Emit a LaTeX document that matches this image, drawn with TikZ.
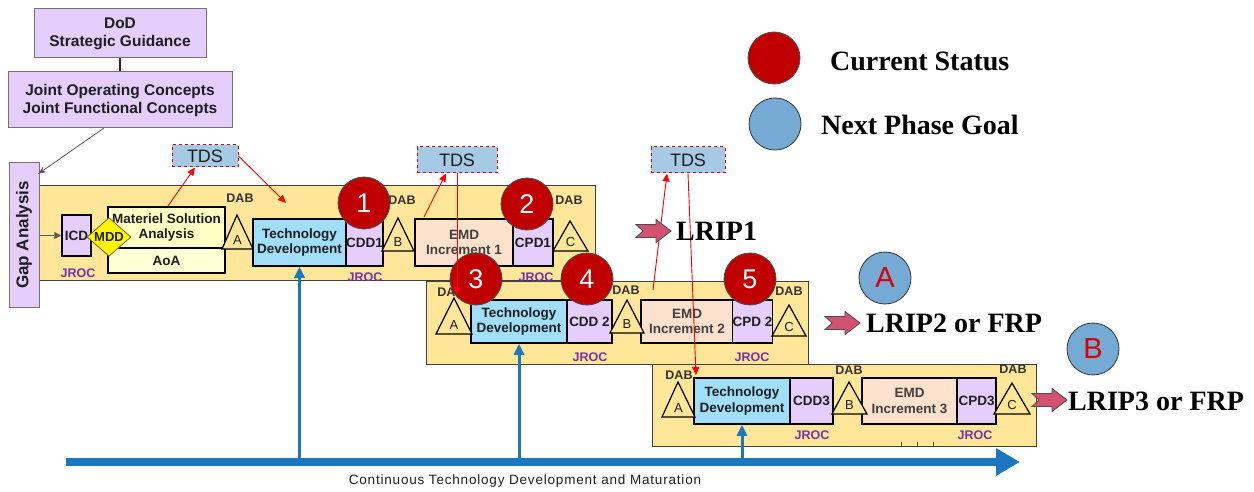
\documentclass[tikz,border=0pt]{standalone}
\usepackage{fontspec}
\setmainfont{Liberation Serif}
\setsansfont{Liberation Sans}
\usetikzlibrary{arrows.meta,shapes.geometric}
\definecolor{lav}{RGB}{229,206,252}
\definecolor{band}{RGB}{255,230,153}
\definecolor{msa}{RGB}{255,255,196}
\definecolor{aoa}{RGB}{255,255,214}
\definecolor{tdc}{RGB}{160,222,250}
\definecolor{emdc}{RGB}{252,226,204}
\definecolor{tdsc}{RGB}{166,202,228}
\definecolor{mddc}{RGB}{255,245,0}
\definecolor{jroc}{RGB}{120,48,170}
\definecolor{redc}{RGB}{192,0,0}
\definecolor{bluec}{RGB}{116,170,211}
\definecolor{tlc}{RGB}{28,120,190}
\definecolor{pinkc}{RGB}{210,82,112}
\definecolor{txt}{RGB}{30,30,30}
\newcommand\dabtri[7]{%
  \draw[tri] (#2,#3) -- (#5,#6) -- (#4,#6) -- cycle;
  \node[trilbl] (#1) at ({(#4+#5)/2},{#6-9}) {#7};}
\newcommand\prodarrow[3]{%
  \draw[pinkarr] (#2,#3-6.5) -- (#2+20,#3-6.5) -- (#2+20,#3-11.5) -- (#2+35,#3)
     -- (#2+20,#3+11.5) -- (#2+20,#3+6.5) -- (#2,#3+6.5) -- (#2+7,#3) -- cycle;
  \coordinate (#1) at (#2+35,#3);}
\begin{document}
\begin{tikzpicture}[x=1pt,y=-1pt,
  every node/.style={inner sep=0pt,text=txt},
  topbox/.style={draw=gray!90!black,line width=1pt,fill=lav,align=center,
     font=\sffamily\bfseries\fontsize{15.5}{18}\selectfont},
  bandbox/.style={draw=black!75,line width=1pt,fill=band},
  stage/.style={draw=black,line width=1.5pt,align=center,
     font=\sffamily\bfseries\fontsize{13.5}{15.5}\selectfont},
  docbox/.style={stage,fill=lav,font=\sffamily\bfseries\fontsize{13.5}{15.5}\selectfont},
  tri/.style={draw=black,line width=1.2pt,fill=band,line join=miter},
  trilbl/.style={font=\sffamily\fontsize{13}{14}\selectfont},
  dab/.style={font=\sffamily\bfseries\fontsize{12.5}{14}\selectfont,text=black!80},
  jr/.style={font=\sffamily\bfseries\fontsize{12.5}{14}\selectfont,text=jroc},
  tds/.style={draw=red!85!black,dashed,line width=1pt,fill=tdsc,
     font=\sffamily\fontsize{18}{20}\selectfont},
  num/.style={circle,draw=black!70,line width=0.8pt,fill=redc,minimum size=52pt,
     text=white,font=\sffamily\fontsize{27}{30}\selectfont},
  goal/.style={circle,draw=black!80,line width=0.8pt,fill=bluec,minimum size=52pt,
     text=red!85!black,font=\sffamily\fontsize{29}{32}\selectfont},
  redarr/.style={draw=red,line width=0.9pt,-{Triangle[length=8pt,width=7pt]}},
  pinkarr/.style={draw=black!70,line width=0.8pt,fill=pinkc},
  big/.style={font=\rmfamily\bfseries\fontsize{28}{30}\selectfont,text=black},
  tlarr/.style={draw=tlc,line width=8pt,-{Triangle[length=24pt,width=26pt]}},
  uparr/.style={draw=tlc,line width=3pt,-{Triangle[length=11pt,width=10pt]}}]
\useasboundingbox (0,0) rectangle (1254,492);

% top boxes
\node[topbox,minimum width=172pt,minimum height=49pt] (dod) at (120,33.5) {DoD\\Strategic Guidance};
\node[topbox,minimum width=224pt,minimum height=56pt] (joc) at (120,100) {Joint Operating Concepts\\Joint Functional Concepts};
\draw[line width=2pt,black!85] (dod.south) -- (joc.north);

% bands
\node[bandbox,minimum width=556pt,minimum height=94pt] (band1) at (317,233) {};
\node[bandbox,minimum width=382pt,minimum height=83pt] (band2) at (617,322.5) {};
\node[bandbox,minimum width=384pt,minimum height=82pt] (band3) at (844,405) {};

\node[topbox,minimum width=144pt,minimum height=30pt,rotate=90,
  font=\sffamily\bfseries\fontsize{17}{19}\selectfont] (gap) at (24,235) {Gap Analysis};
\coordinate (gapin) at (38,174);
\coordinate (jocs) at (104,128);
\draw[gray!70!black,line width=0.8pt,-{Stealth[length=8pt,width=6pt]}] (jocs) -- (gapin);

% row 1
\node[docbox,minimum width=29pt,minimum height=41pt] (icd) at (76.5,235.5) {ICD};
\draw[gray!70!black,line width=0.9pt,-{Triangle[length=7pt,width=7pt]}] (gap.south |- icd.west) -- (icd.west);
\node[stage,fill=msa,minimum width=117pt,minimum height=41pt] (msa) at (166.5,227.5) {Materiel Solution\\Analysis};
\node[stage,fill=aoa,minimum width=117pt,minimum height=25pt] (aoa) at (166.5,260.5) {AoA};
\node[diamond,draw=olive!70!black,line width=0.8pt,fill=mddc,minimum width=44pt,minimum height=30pt,
   font=\sffamily\bfseries\fontsize{13}{14}\selectfont] (mdd) at (109,237) {MDD};
\node[stage,fill=tdc,minimum width=93pt,minimum height=47pt] (td1) at (299.5,242.5) {Technology\\Development};
\node[docbox,minimum width=37pt,minimum height=47pt] (cdd1) at (364.5,242.5) {CDD1};
\node[stage,fill=emdc,minimum width=98pt,minimum height=47pt,text=black!75] (emd1) at (464,242.5) {EMD\\Increment 1};
\node[docbox,minimum width=40pt,minimum height=47pt] (cpd1) at (533,242.5) {CPD1};
\node[jr] (jr0) at (78,273) {JROC};
\node[jr] (jr1) at (365,277) {JROC};
\node[jr] (jr2) at (536,277) {JROC};
\node[dab] (dabA1) at (240,198) {DAB};
\node[dab] (dabB1) at (402,200) {DAB};
\node[dab] (dabC1) at (569,200) {DAB};
\dabtri{tA1}{237}{215}{222}{253}{249}{A}
\dabtri{tB1}{398}{218}{382}{414}{251}{B}
\dabtri{tC1}{570}{221}{553}{588}{251}{C}

% row 2
\node[stage,fill=tdc,minimum width=96pt,minimum height=43pt] (td2) at (519,321.5) {Technology\\Development};
\node[docbox,minimum width=45pt,minimum height=43pt] (cdd2) at (589.5,321.5) {CDD 2};
\node[stage,fill=emdc,minimum width=92pt,minimum height=43pt,text=black!75] (emd2) at (687,321.5) {EMD\\Increment 2};
\node[docbox,minimum width=39pt,minimum height=43pt] (cpd2) at (752.5,321.5) {CPD 2};
\node[jr] (jr3) at (590,357) {JROC};
\node[jr] (jr4) at (752,357) {JROC};
\node[dab] (dabA2) at (451,292) {DAB};
\node[dab] (dabB2) at (626,290) {DAB};
\node[dab] (dabC2) at (789,291) {DAB};
\dabtri{tA2}{454}{298}{436}{472}{334}{A}
\dabtri{tB2}{627}{300}{610}{644}{333}{B}
\dabtri{tC2}{789}{305}{772}{806}{336}{C}

% row 3
\node[stage,fill=tdc,minimum width=96pt,minimum height=46pt] (td3) at (742,401) {Technology\\Development};
\node[docbox,minimum width=43pt,minimum height=46pt] (cdd3) at (811.5,401) {CDD3};
\node[stage,fill=emdc,minimum width=95pt,minimum height=46pt,text=black!75] (emd3) at (909.5,401) {EMD\\Increment 3};
\node[docbox,minimum width=39pt,minimum height=46pt] (cpd3) at (976.5,401) {CPD3};
\node[jr] (jr5) at (812,435) {JROC};
\node[jr] (jr6) at (975,435) {JROC};
\node[dab] (dabA3) at (679,375) {DAB};
\node[dab] (dabB3) at (849,370) {DAB};
\node[dab] (dabC3) at (1013,369) {DAB};
\dabtri{tA3}{678}{382}{662}{695}{417}{A}
\dabtri{tB3}{849}{382}{832}{867}{414}{B}
\dabtri{tC3}{1012}{383}{994}{1030}{414}{C}
\foreach \i in {901,917,933} \draw[black!70,line width=1pt] (\i,442) -- (\i,446);

% timeline
\coordinate (tl0) at (66,462);
\coordinate (tl1) at (1020,462);
\draw[tlarr] (tl0) -- (tl1);
\draw[uparr] (td1.south |- tl0) -- (td1.south);
\draw[uparr] (td2.south |- tl0) -- (td2.south);
\draw[uparr] (td3.south |- tl0) -- (td3.south);
\node[font=\sffamily\fontsize{13.5}{15}\selectfont\addfontfeature{LetterSpace=6}] (tltext) at (525,481) {Continuous Technology Development and Maturation};

% status circles
\node[num] (c1) at (364,203) {1};
\node[num] (c2) at (527,204) {2};
\node[num] (c3) at (476,279) {3};
\node[num] (c4) at (587,279) {4};
\node[num] (c5) at (750,279) {5};
\node[goal] (gA) at (885,278) {A};
\node[goal] (gB) at (1093,349) {B};

% TDS
\node[tds,minimum width=66pt,minimum height=22pt] (tds1) at (205,156) {TDS};
\node[tds,minimum width=80pt,minimum height=26pt] (tds2) at (457,160) {TDS};
\node[tds,minimum width=74pt,minimum height=26pt] (tds3) at (688,160) {TDS};
\coordinate (r1s) at (168,206);
\coordinate (r2e) at (286,203);
\coordinate (r3s) at (424,217);
\coordinate (r4e) at (457,295);
\coordinate (r5s) at (653,290);
\coordinate (r6e) at (696,375);
\draw[redarr] (r1s) -- ([xshift=-10pt]tds1.south);
\draw[redarr] (tds1.east) -- (r2e);
\draw[redarr] (r3s) -- ([xshift=-11pt]tds2.south);
\draw[redarr] (tds2.south) -- (r4e);
\draw[redarr] (r5s) -- ([xshift=-21pt]tds3.south);
\draw[redarr] (tds3.south) -- (r6e);

% production arrows
\prodarrow{p1}{636}{231}
\node[big,anchor=west] (lrip1) at (676,231) {LRIP1};
\prodarrow{p2}{825}{323}
\node[big,anchor=west] (lrip2) at (866,323) {LRIP2 or FRP};
\prodarrow{p3}{1032}{400}
\node[big,anchor=west] (lrip3) at (1068,401) {LRIP3 or FRP};

% legend
\node[num] (lg1) at (774,58) {};
\node[big,anchor=west] (lgt1) at (830,61) {Current Status};
\node[goal] (lg2) at (775,124) {};
\node[big,anchor=west] (lgt2) at (821,125) {Next Phase Goal};
\end{tikzpicture}
\end{document}
